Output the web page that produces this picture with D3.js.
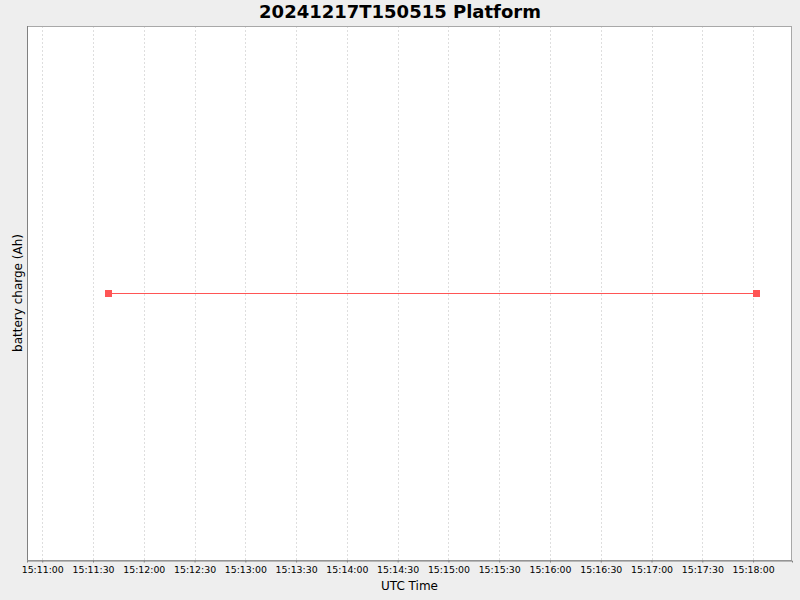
<!DOCTYPE html>
<html lang="en">
<head>
<meta charset="UTF-8">
<title>20241217T150515 Platform</title>
<script src="https://cdn.jsdelivr.net/npm/d3@7"></script>
<style>
    html, body { margin: 0; padding: 0; background: #eeeeee; }
    svg text { font-family: "DejaVu Sans", sans-serif; }
</style>
</head>
<body>
<div id="chart"></div>
<script>
    // readings (UTC) and battery charge values
    const times = ['2024-12-17T15:11:39Z', '2024-12-17T15:18:02Z'];
    const charge = [0, 0];
    const xDomain = ['2024-12-17T15:10:51Z', '2024-12-17T15:18:23Z'];
    const tickLabels = ['15:11:00', '15:11:30', '15:12:00', '15:12:30', '15:13:00', '15:13:30', '15:14:00',
        '15:14:30', '15:15:00', '15:15:30', '15:16:00', '15:16:30', '15:17:00', '15:17:30', '15:18:00'];

    const width = 800, height = 600;
    const margin = {top: 26, right: 8, bottom: 40, left: 27};
    const plotW = width - margin.left - margin.right, plotH = height - margin.top - margin.bottom;

    const data = times.map((t, i) => ({t: new Date(t), v: charge[i]}));
    const tickDates = tickLabels.map(s => new Date('2024-12-17T' + s + 'Z'));

    const svg = d3.select('#chart').append('svg').attr('width', width).attr('height', height);
    svg.append('rect').attr('width', width).attr('height', height).attr('fill', '#eeeeee');

    const x = d3.scaleUtc().domain(xDomain.map(d => new Date(d))).range([0, plotW]);
    const y = d3.scaleLinear().domain([-1, 1]).range([plotH, 0]);

    const g = svg.append('g').attr('transform', `translate(${margin.left},${margin.top})`);

    g.append('rect').attr('width', plotW).attr('height', plotH).attr('fill', '#ffffff');

    // vertical grid
    g.selectAll('line.grid').data(tickDates).enter().append('line')
        .attr('class', 'grid')
        .attr('x1', d => Math.round(x(d)) + 0.5).attr('x2', d => Math.round(x(d)) + 0.5)
        .attr('y1', 0).attr('y2', plotH)
        .attr('stroke', '#dedede').attr('stroke-dasharray', '2,2');

    // outline
    g.append('rect').attr('x', 0.5).attr('y', 0.5).attr('width', plotW - 1).attr('height', plotH)
        .attr('fill', 'none').attr('stroke', '#a8a8a8');
    g.append('line').attr('x1', 0.5).attr('x2', 0.5).attr('y1', 0).attr('y2', plotH + 0.5)
        .attr('stroke', '#808080');

    // x axis
    const axis = d3.axisBottom(x).tickValues(tickDates).tickFormat(d3.utcFormat('%H:%M:%S'))
        .tickSize(2).tickPadding(4);
    const ax = g.append('g').attr('transform', `translate(0,${plotH + 0.5})`).call(axis);
    ax.select('.domain').attr('stroke', '#808080');
    ax.selectAll('.tick line').attr('stroke', '#808080');
    ax.selectAll('.tick text').attr('font-size', 9.4).attr('fill', '#000')
        .attr('font-family', '"DejaVu Sans", sans-serif');

    // series
    const px = d => Math.round(x(d.t)), py = d => Math.round(y(d.v));
    const line = d3.line().x(d => px(d)).y(d => py(d) + 0.5);
    g.append('path').datum(data).attr('d', line)
        .attr('fill', 'none').attr('stroke', '#ff5555').attr('stroke-width', 1);
    g.selectAll('rect.pt').data(data).enter().append('rect')
        .attr('class', 'pt')
        .attr('x', d => px(d) - 3).attr('y', d => py(d) - 3)
        .attr('width', 7).attr('height', 7).attr('fill', '#ff5555');

    // titles
    svg.append('text').text('20241217T150515 Platform')
        .attr('x', width / 2).attr('y', 18).attr('text-anchor', 'middle')
        .attr('font-size', 18).attr('font-weight', 'bold').attr('fill', '#000');
    svg.append('text').text('UTC Time')
        .attr('x', margin.left + plotW / 2).attr('y', 590).attr('text-anchor', 'middle')
        .attr('font-size', 12).attr('fill', '#000');
    svg.append('text').text('battery charge (Ah)')
        .attr('transform', `translate(22,${margin.top + plotH / 2}) rotate(-90)`)
        .attr('text-anchor', 'middle').attr('font-size', 12).attr('fill', '#000');
</script>
</body>
</html>
